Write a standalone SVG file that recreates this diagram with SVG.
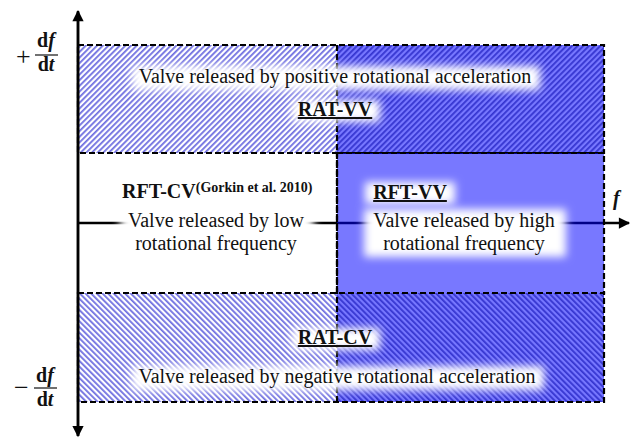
<svg xmlns="http://www.w3.org/2000/svg" width="631" height="438" viewBox="0 0 631 438">
<style>
.txt{font-family:"Liberation Serif","Times New Roman",serif;font-size:20px;fill:#111}
.b{font-weight:bold}
.u{text-decoration:underline}
.sign{font-size:26px}
.dash{fill:none;stroke:#000;stroke-width:2.2;stroke-dasharray:6 3}
.halo{fill:#fff;filter:url(#blur)}
.axis{stroke:#000;stroke-width:2.5;fill:none}
</style>
<defs>
<filter id="blur" x="-30%" y="-60%" width="160%" height="220%"><feGaussianBlur stdDeviation="4"/></filter>
<pattern id="hatchUpLight" width="4" height="4" patternUnits="userSpaceOnUse" patternTransform="rotate(45)">
<rect width="4" height="4" fill="#ffffff"/><rect width="1.8" height="4" fill="#7070e0"/>
</pattern>
<pattern id="hatchUpDark" width="4" height="4" patternUnits="userSpaceOnUse" patternTransform="rotate(45)">
<rect width="4" height="4" fill="#7777ff"/><rect width="1.8" height="4" fill="#3535d0"/>
</pattern>
<pattern id="hatchDnLight" width="4" height="4" patternUnits="userSpaceOnUse" patternTransform="rotate(-45)">
<rect width="4" height="4" fill="#ffffff"/><rect width="1.8" height="4" fill="#7070e0"/>
</pattern>
<pattern id="hatchDnDark" width="4" height="4" patternUnits="userSpaceOnUse" patternTransform="rotate(-45)">
<rect width="4" height="4" fill="#7777ff"/><rect width="1.8" height="4" fill="#3535d0"/>
</pattern>
<marker id="arr" viewBox="0 0 10 10" refX="9" refY="5" markerWidth="5" markerHeight="4.5" orient="auto" markerUnits="strokeWidth">
<path d="M0,0 L10,5 L0,10 z" fill="#000"/>
</marker>
</defs>
<rect width="631" height="438" fill="#fff"/>

<g id="connectors">
<line class="axis" x1="78" y1="223" x2="629" y2="223" marker-end="url(#arr)"/>
</g>

<g id="rat-vv-region">
<rect x="78" y="45" width="259" height="108" fill="url(#hatchUpLight)"/>
<rect x="337" y="45" width="267" height="108" fill="url(#hatchUpDark)"/>
<rect class="dash" x="78" y="45" width="526" height="108"/>
</g>

<g id="rft-vv-region">
<rect x="337" y="153" width="267" height="140" fill="#0000ff" fill-opacity="0.53"/>
<rect class="dash" x="337" y="153" width="267" height="140"/>
</g>

<g id="rat-cv-region">
<rect x="78" y="293" width="259" height="109" fill="url(#hatchDnLight)"/>
<rect x="337" y="293" width="267" height="109" fill="url(#hatchDnDark)"/>
<rect class="dash" x="78" y="293" width="526" height="109"/>
<line class="dash" x1="337" y1="45" x2="337" y2="402"/>
</g>

<g id="halos">
<rect class="halo" x="132" y="66" width="408" height="24"/>
<rect class="halo" x="292" y="100" width="88" height="22"/>
<rect class="halo" x="120" y="210" width="194" height="48"/>
<rect class="halo" x="365" y="182" width="90" height="22"/>
<rect class="halo" x="364" y="209" width="202" height="48"/>
<rect class="halo" x="292" y="328" width="88" height="22"/>
<rect class="halo" x="132" y="366" width="412" height="24"/>
</g>

<g id="rat-vv-text">
<text class="txt" x="335" y="83" text-anchor="middle">Valve released by positive rotational acceleration</text>
<text class="txt b u" x="335" y="116" text-anchor="middle">RAT-VV</text>
</g>

<g id="rft-cv">
<text class="txt b" x="122" y="198">RFT-CV<tspan font-size="14" dy="-6">(Gorkin et al. 2010)</tspan></text>
<text class="txt" x="216" y="227" text-anchor="middle">Valve released by low</text>
<text class="txt" x="216" y="250" text-anchor="middle">rotational frequency</text>
</g>

<g id="rft-vv">
<text class="txt b u" x="410" y="199" text-anchor="middle">RFT-VV</text>
<text class="txt" x="464" y="227" text-anchor="middle">Valve released by high</text>
<text class="txt" x="464" y="250" text-anchor="middle">rotational frequency</text>
</g>

<g id="rat-cv-text">
<text class="txt b u" x="335" y="344" text-anchor="middle">RAT-CV</text>
<text class="txt" x="337" y="383" text-anchor="middle">Valve released by negative rotational acceleration</text>
</g>

<g id="axis-labels">
<line class="axis" x1="78" y1="436" x2="78" y2="11" marker-end="url(#arr)"/>
<line class="axis" x1="78" y1="12" x2="78" y2="436" marker-end="url(#arr)"/>
<text class="txt b" x="613" y="205" font-style="italic">f</text>
<text class="txt sign" x="16" y="65">+</text>
<text class="txt b" x="46" y="47" text-anchor="middle">d<tspan font-style="italic">f</tspan></text>
<line x1="35" y1="55" x2="58" y2="55" stroke="#111" stroke-width="1.2"/>
<text class="txt b" x="46" y="71" text-anchor="middle">d<tspan font-style="italic">t</tspan></text>
<text class="txt sign" x="14" y="396">−</text>
<text class="txt b" x="45" y="382" text-anchor="middle">d<tspan font-style="italic">f</tspan></text>
<line x1="34" y1="388" x2="57" y2="388" stroke="#111" stroke-width="1.2"/>
<text class="txt b" x="45" y="406" text-anchor="middle">d<tspan font-style="italic">t</tspan></text>
</g>
</svg>
